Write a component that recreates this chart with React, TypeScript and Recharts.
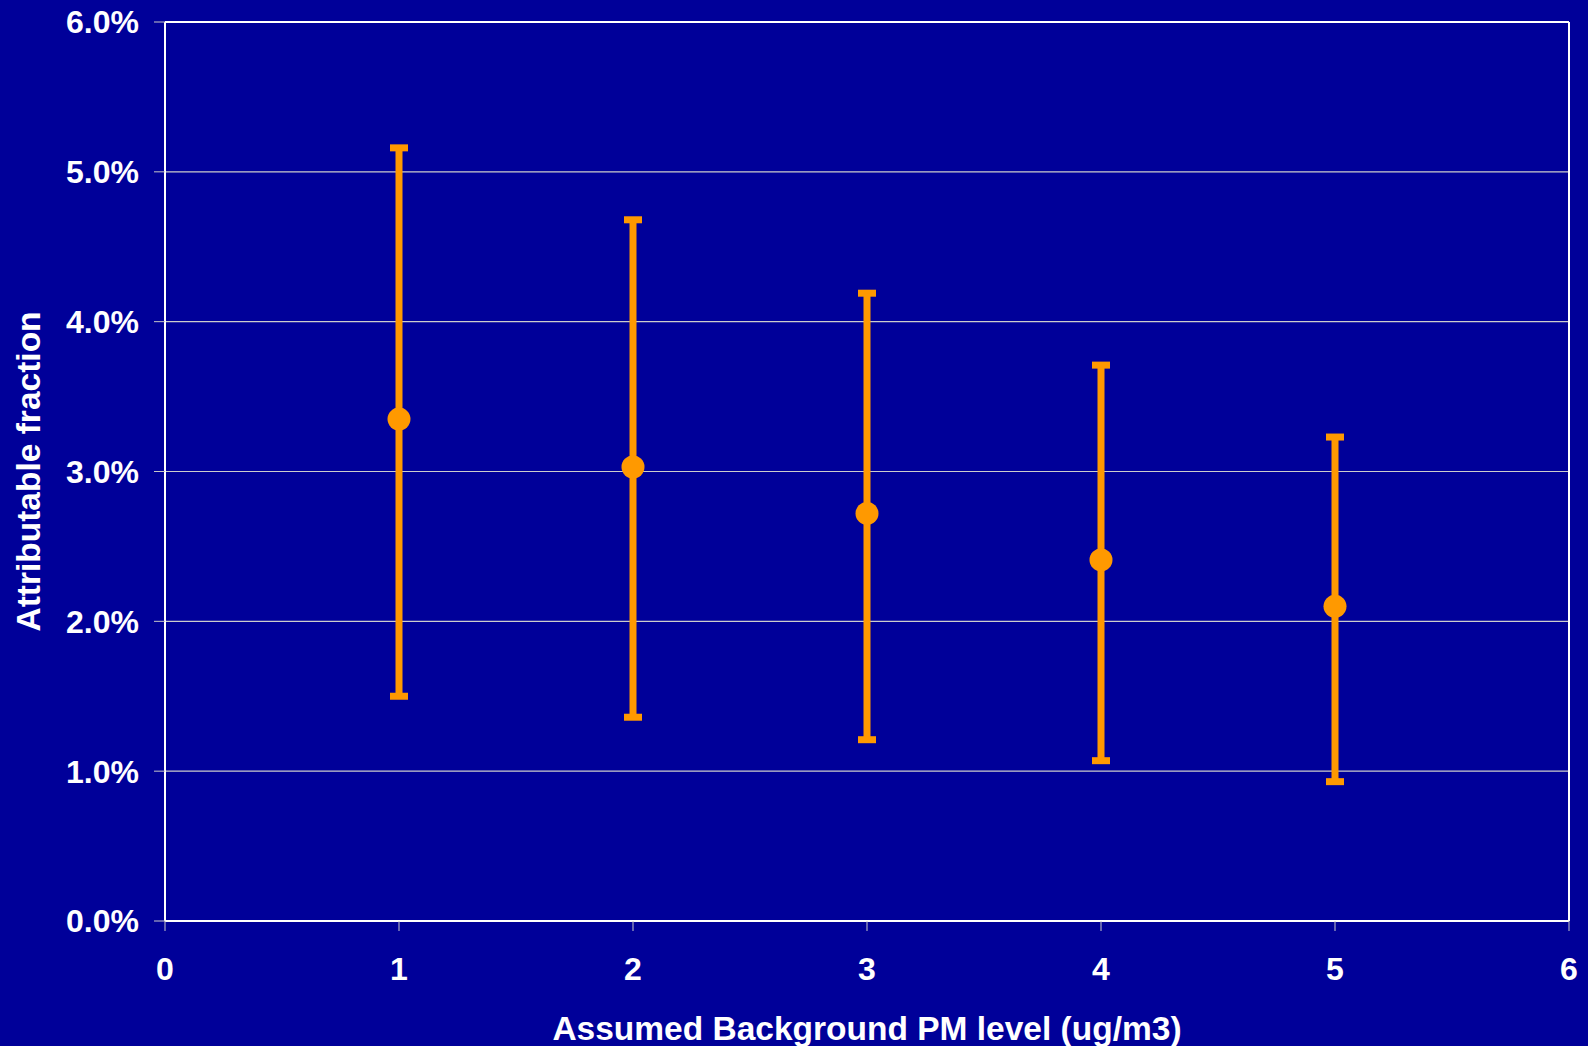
import React from 'react';
import { ScatterChart, Scatter, XAxis, YAxis, CartesianGrid, ErrorBar, ReferenceLine } from 'recharts';

// Assumed background PM level (ug/m3)
const levels = [1, 2, 3, 4, 5];
// Attributable fraction (%), central estimate
const means = [3.35, 3.03, 2.72, 2.41, 2.1];
// Upper and lower bounds of the interval (%)
const uppers = [5.16, 4.68, 4.19, 3.71, 3.23];
const lowers = [1.5, 1.36, 1.21, 1.07, 0.93];

const xTicks = [0, 1, 2, 3, 4, 5, 6];
const yTicks = [0, 1, 2, 3, 4, 5, 6];

const xTitle = 'Assumed Background PM level (ug/m3)';
const yTitle = 'Attributable fraction';

const data = levels.map((x, i) => ({
  x,
  y: means[i],
  err: [means[i] - lowers[i], uppers[i] - means[i]],
}));

const BG = '#000099';
const ORANGE = '#FF9900';
const FONT = '"Liberation Sans", Arial, sans-serif';

const tickStyle = { fill: '#ffffff', fontSize: 32, fontWeight: 700, fontFamily: FONT };

const Dot = (props: any) => {
  const { cx, cy } = props;
  if (cx == null || cy == null) return null;
  return <circle cx={cx} cy={cy} r={11.5} fill={ORANGE} />;
};

const YTitle = (props: any) => {
  const vb = props.viewBox || {};
  const cy = (vb.y || 0) + (vb.height || 0) / 2;
  const cx = 28.5;
  return (
    <text
      x={cx}
      y={cy}
      transform={`rotate(-90, ${cx}, ${cy})`}
      textAnchor="middle"
      dominantBaseline="central"
      fill="#ffffff"
      fontSize={33.5}
      fontWeight={700}
      fontFamily={FONT}
    >
      {yTitle}
    </text>
  );
};

export default function App() {
  return (
    <div style={{ position: 'fixed', left: 0, top: 0, width: 1588, height: 1046, background: BG }}>
      <ScatterChart
        width={1588}
        height={1046}
        margin={{ top: 22, right: 19, bottom: 0, left: 0 }}
        style={{ background: BG }}
      >
        <CartesianGrid horizontal vertical={false} stroke="#cccccc" strokeWidth={1.2} />
        <XAxis
          type="number"
          dataKey="x"
          domain={[0, 6]}
          ticks={xTicks}
          interval={0}
          height={125}
          axisLine={{ stroke: '#ffffff', strokeWidth: 2 }}
          tickLine={{ stroke: '#c8c8c8', strokeWidth: 1 }}
          tickSize={10}
          tickMargin={26}
          tick={tickStyle}
          label={{
            value: xTitle,
            position: 'insideBottom',
            offset: 6,
            fill: '#ffffff',
            fontSize: 33.5,
            fontWeight: 700,
            fontFamily: FONT,
          }}
        />
        <YAxis
          type="number"
          dataKey="y"
          domain={[0, 6]}
          ticks={yTicks}
          interval={0}
          width={165}
          axisLine={{ stroke: '#ffffff', strokeWidth: 2 }}
          tickLine={{ stroke: '#c8c8c8', strokeWidth: 1 }}
          tickSize={11}
          tickMargin={15}
          tick={tickStyle}
          tickFormatter={(v: number) => `${v.toFixed(1)}%`}
          label={<YTitle />}
        />
        <ReferenceLine y={6} stroke="#ffffff" strokeWidth={2} />
        <ReferenceLine x={6} stroke="#ffffff" strokeWidth={2} />
        <Scatter data={data} fill={ORANGE} shape={<Dot />} isAnimationActive={false}>
          <ErrorBar dataKey="err" direction="y" width={9} strokeWidth={7} stroke={ORANGE} isAnimationActive={false} />
        </Scatter>
      </ScatterChart>
    </div>
  );
}
